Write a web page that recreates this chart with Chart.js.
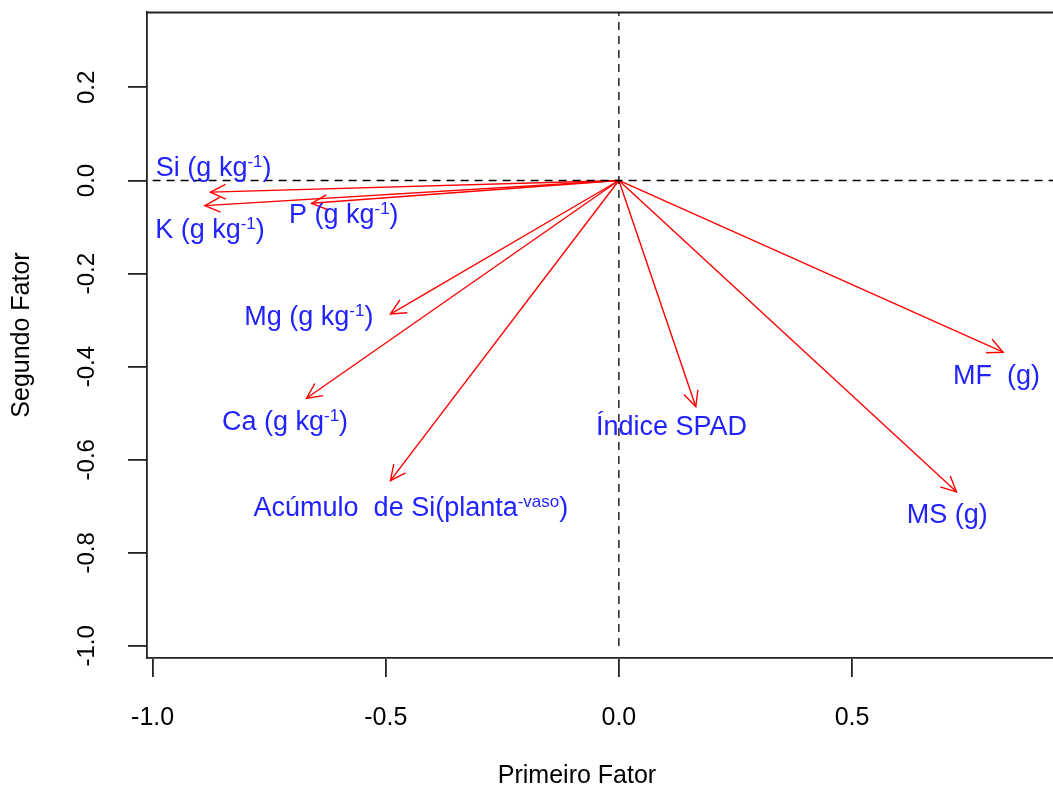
<!DOCTYPE html>
<html>
<head>
<meta charset="utf-8">
<script src="https://cdn.jsdelivr.net/npm/chart.js@4.4.1/dist/chart.umd.min.js"></script>
<style>
  html, body { margin: 0; padding: 0; background: #fff; overflow: hidden; }
  #wrap { width: 1053px; height: 789px; position: relative; }
</style>
</head>
<body>
<div id="wrap"><canvas id="chart"></canvas></div>
<script>
// variables (label text split so the exponent can be raised)
const varNames = ['Si (g kg', 'K (g kg', 'P (g kg', 'Mg (g kg', 'Ca (g kg', 'Acúmulo  de Si(planta', 'Índice SPAD', 'MS (g)', 'MF  (g)'];
const varSup   = ['-1', '-1', '-1', '-1', '-1', '-vaso', '', '', ''];
const varTail  = [')', ')', ')', ')', ')', ')', '', '', ''];

// loadings: Primeiro Fator / Segundo Fator
const factor1 = [-0.876, -0.888, -0.659, -0.490, -0.670, -0.490, 0.165, 0.724, 0.824];
const factor2 = [-0.025, -0.054, -0.049, -0.287, -0.468, -0.645, -0.486, -0.669, -0.369];

// where each label sits, same units
const labelX = [-0.869, -0.877, -0.590, -0.665, -0.716, -0.446, 0.113, 0.704, 0.810];
const labelY = [0.029, -0.104, -0.072, -0.291, -0.517, -0.702, -0.527, -0.717, -0.418];

const xTicks = [-1.0, -0.5, 0.0, 0.5];
const yTicks = [-1.0, -0.8, -0.6, -0.4, -0.2, 0.0, 0.2];

const FONT = '"Liberation Sans", Arial, sans-serif';

const datasets = [];
// dashed reference lines through the origin
datasets.push({ data: [{ x: -1, y: 0 }, { x: 1, y: 0 }], borderDash: [8, 6] });
datasets.push({ data: [{ x: 0, y: -1 }, { x: 0, y: 1 }], borderDash: [8, 6] });
datasets.forEach(d => Object.assign(d, { showLine: true, borderColor: '#000', borderWidth: 1.3, pointRadius: 0 }));

factor1.forEach((fx, i) => {
  datasets.push({
    data: [{ x: 0, y: 0 }, { x: fx, y: factor2[i] }],
    showLine: true,
    borderColor: '#ff0000',
    borderWidth: 1.4,
    pointRadius: 0,
    arrow: true
  });
});

const arrowHeads = {
  id: 'arrowHeads',
  afterDatasetsDraw(chart) {
    const ctx = chart.ctx;
    chart.data.datasets.forEach((ds, i) => {
      if (!ds.arrow) return;
      const pts = chart.getDatasetMeta(i).data;
      const a = pts[0], b = pts[1];
      const ang = Math.atan2(b.y - a.y, b.x - a.x);
      const len = 17, spread = Math.PI / 7;
      ctx.save();
      ctx.strokeStyle = ds.borderColor;
      ctx.lineWidth = 1.4;
      ctx.beginPath();
      ctx.moveTo(b.x - len * Math.cos(ang - spread), b.y - len * Math.sin(ang - spread));
      ctx.lineTo(b.x, b.y);
      ctx.lineTo(b.x - len * Math.cos(ang + spread), b.y - len * Math.sin(ang + spread));
      ctx.stroke();
      ctx.restore();
    });
  }
};

const extras = {
  id: 'extras',
  afterDraw(chart) {
    const ctx = chart.ctx;
    const { left, right, top, bottom } = chart.chartArea;
    const xs = chart.scales.x, ys = chart.scales.y;
    ctx.save();

    // top edge of the box
    ctx.strokeStyle = '#222';
    ctx.lineWidth = 1.8;
    ctx.beginPath();
    ctx.moveTo(left, top + 0.5);
    ctx.lineTo(right, top + 0.5);
    ctx.stroke();

    ctx.fillStyle = '#000';
    ctx.textAlign = 'center';
    ctx.textBaseline = 'middle';

    // x tick labels
    ctx.font = '25px ' + FONT;
    xTicks.forEach(v => {
      ctx.fillText(v.toFixed(1), xs.getPixelForValue(v), 718);
    });

    // y tick labels, rotated like R
    ctx.font = '24px ' + FONT;
    yTicks.forEach(v => {
      const py = ys.getPixelForValue(v);
      ctx.save();
      ctx.translate(87, py);
      ctx.rotate(-Math.PI / 2);
      ctx.fillText(v.toFixed(1), 0, 0);
      ctx.restore();
    });

    // axis titles
    ctx.font = '25px ' + FONT;
    ctx.fillText('Primeiro Fator', 577, 776);
    ctx.save();
    ctx.translate(22, (top + bottom) / 2);
    ctx.rotate(-Math.PI / 2);
    ctx.fillText('Segundo Fator', 0, 0);
    ctx.restore();

    // variable labels
    const big = 27, small = 17;
    ctx.fillStyle = '#2222ff';
    ctx.textAlign = 'left';
    ctx.textBaseline = 'alphabetic';
    varNames.forEach((name, i) => {
      ctx.font = big + 'px ' + FONT;
      const w1 = ctx.measureText(name).width;
      const w3 = ctx.measureText(varTail[i]).width;
      ctx.font = small + 'px ' + FONT;
      const w2 = ctx.measureText(varSup[i]).width;
      const cx = xs.getPixelForValue(labelX[i]);
      const cy = ys.getPixelForValue(labelY[i]);
      let x = cx - (w1 + w2 + w3) / 2;
      const base = cy + 9;
      ctx.font = big + 'px ' + FONT;
      ctx.fillText(name, x, base);
      x += w1;
      ctx.font = small + 'px ' + FONT;
      ctx.fillText(varSup[i], x, base - 9);
      x += w2;
      ctx.font = big + 'px ' + FONT;
      ctx.fillText(varTail[i], x, base);
    });
    ctx.restore();
  }
};

new Chart(document.getElementById('chart'), {
  type: 'scatter',
  data: { datasets },
  options: {
    responsive: true,
    maintainAspectRatio: false,
    animation: false,
    layout: { padding: { top: 12, left: 0, right: 0, bottom: 0 } },
    plugins: { legend: { display: false }, tooltip: { enabled: false } },
    scales: {
      x: {
        type: 'linear',
        min: -1.012,
        max: 0.931,
        afterBuildTicks: s => { s.ticks = xTicks.map(v => ({ value: v })); },
        afterFit: s => { s.height = 131; },
        grid: { drawOnChartArea: false, drawTicks: true, tickLength: 19, color: '#222', lineWidth: 1.8 },
        border: { display: true, color: '#222', width: 1.8 },
        ticks: { display: false },
        title: { display: false }
      },
      y: {
        type: 'linear',
        min: -1.026,
        max: 0.362,
        afterBuildTicks: s => { s.ticks = yTicks.map(v => ({ value: v })); },
        afterFit: s => { s.width = 147; },
        grid: { drawOnChartArea: false, drawTicks: true, tickLength: 19, color: '#222', lineWidth: 1.8 },
        border: { display: true, color: '#222', width: 1.8 },
        ticks: { display: false },
        title: { display: false }
      }
    }
  },
  plugins: [arrowHeads, extras]
});
</script>
</body>
</html>
